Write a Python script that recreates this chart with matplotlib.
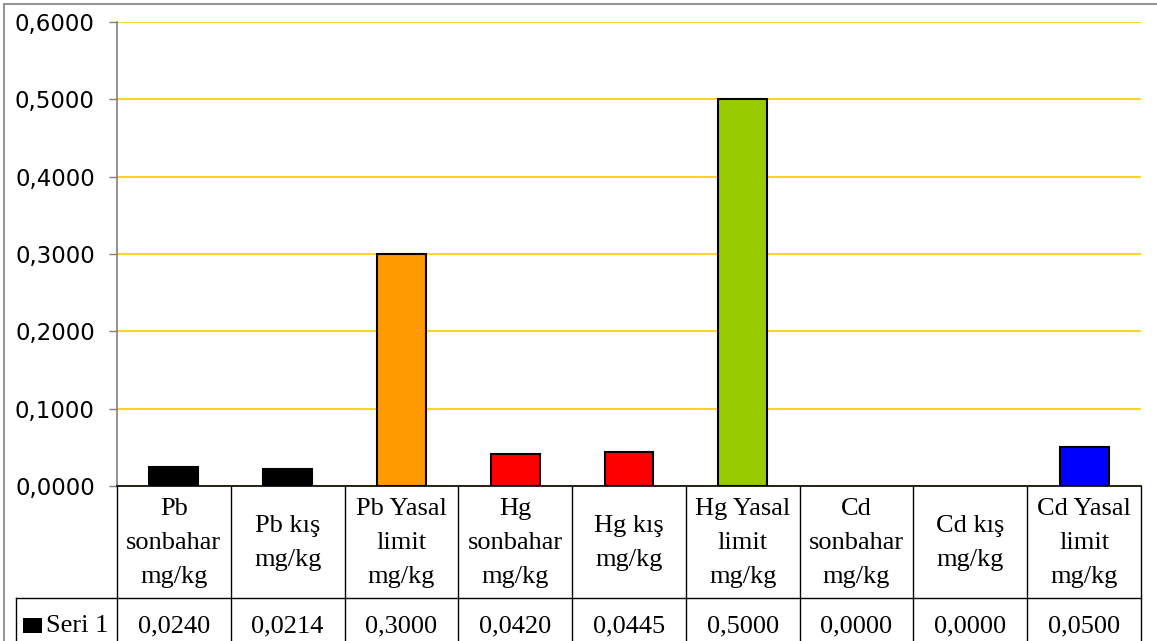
import matplotlib
matplotlib.use("Agg")
import matplotlib.pyplot as plt
from matplotlib.lines import Line2D
from matplotlib.patches import Rectangle
from matplotlib.transforms import blended_transform_factory

categories = ["Pb\nsonbahar\nmg/kg", "Pb kış\nmg/kg", "Pb Yasal\nlimit\nmg/kg",
              "Hg\nsonbahar\nmg/kg", "Hg kış\nmg/kg", "Hg Yasal\nlimit\nmg/kg",
              "Cd\nsonbahar\nmg/kg", "Cd kış\nmg/kg", "Cd Yasal\nlimit\nmg/kg"]
values = [0.0240, 0.0214, 0.3000, 0.0420, 0.0445, 0.5000, 0.0000, 0.0000, 0.0500]
bar_colors = ["#000000", "#000000", "#FF9900", "#FF0000", "#FF0000", "#99CC00",
              "none", "none", "#0000FF"]
series_name = "Seri 1"
yticks = [0.0, 0.1, 0.2, 0.3, 0.4, 0.5, 0.6]

W, H = 1157, 641
fig = plt.figure(figsize=(W / 100, H / 100), dpi=100)
fig.patch.set_facecolor("white")

def fx(x):
    return x / W

def fy(y):
    return 1 - y / H

L, R, T, B = 117, 1141, 22, 486
ax = fig.add_axes([fx(L), fy(B), fx(R) - fx(L), fy(T) - fy(B)])
n = len(values)
xs = list(range(n))
edges = ["black" if v > 0 else "none" for v in values]
ax.bar(xs, values, width=0.43, color=bar_colors, edgecolor=edges, linewidth=1.5, zorder=3)
ax.set_xlim(-0.5, n - 0.5)
ax.set_ylim(0, 0.6)
ax.set_yticks(yticks)
ax.set_yticklabels([f"{v:.4f}".replace(".", ",") for v in yticks],
                   fontsize=16.5, family="DejaVu Sans")
ax.yaxis.grid(True, color="#FFCC00", linewidth=1.2, zorder=0)
ax.set_axisbelow(True)
ax.tick_params(axis="y", length=6, width=1, color="#808080", pad=10)
ax.set_xticks([])
for s in ["top", "right"]:
    ax.spines[s].set_visible(False)
ax.spines["left"].set_color("#808080")
ax.spines["left"].set_linewidth(1.2)
ax.spines["bottom"].set_color("black")
ax.spines["bottom"].set_linewidth(1.2)

# Data table
tr = blended_transform_factory(ax.transData, fig.transFigure)
y_top, y_mid, y_bot = fy(B), fy(598), fy(H + 5)
lw = 1.0
for i in range(n + 1):
    xb = i - 0.5
    fig.add_artist(Line2D([xb, xb], [y_top, y_bot], transform=tr, color="black", lw=lw))
fig.add_artist(Line2D([fx(16), fx(R)], [y_mid, y_mid], transform=fig.transFigure, color="black", lw=lw))
fig.add_artist(Line2D([fx(16), fx(16)], [y_mid, y_bot], transform=fig.transFigure, color="black", lw=lw))

serif = ["Liberation Serif", "DejaVu Serif"]
for i, (lab, v) in enumerate(zip(categories, values)):
    fig.text(i, fy(543), lab, transform=tr, ha="center", va="center",
             fontsize=19, family=serif, linespacing=1.7)
    fig.text(i, fy(632), f"{v:.4f}".replace(".", ","), transform=tr, ha="center",
             va="baseline", fontsize=19, family=serif)
fig.add_artist(Rectangle((fx(23), fy(633)), fx(42) - fx(23), fy(618) - fy(633),
                         transform=fig.transFigure, facecolor="black", edgecolor="none"))
fig.text(fx(46), fy(632), series_name, ha="left", va="baseline",
         fontsize=19, family=serif)

# Outer chart border
fig.add_artist(Rectangle((fx(4), fy(H + 10)), fx(W + 10), fy(4) - fy(H + 10),
                         transform=fig.transFigure, fill=False, edgecolor="#808080", lw=1.2))

fig.savefig("out.png", dpi=100)
